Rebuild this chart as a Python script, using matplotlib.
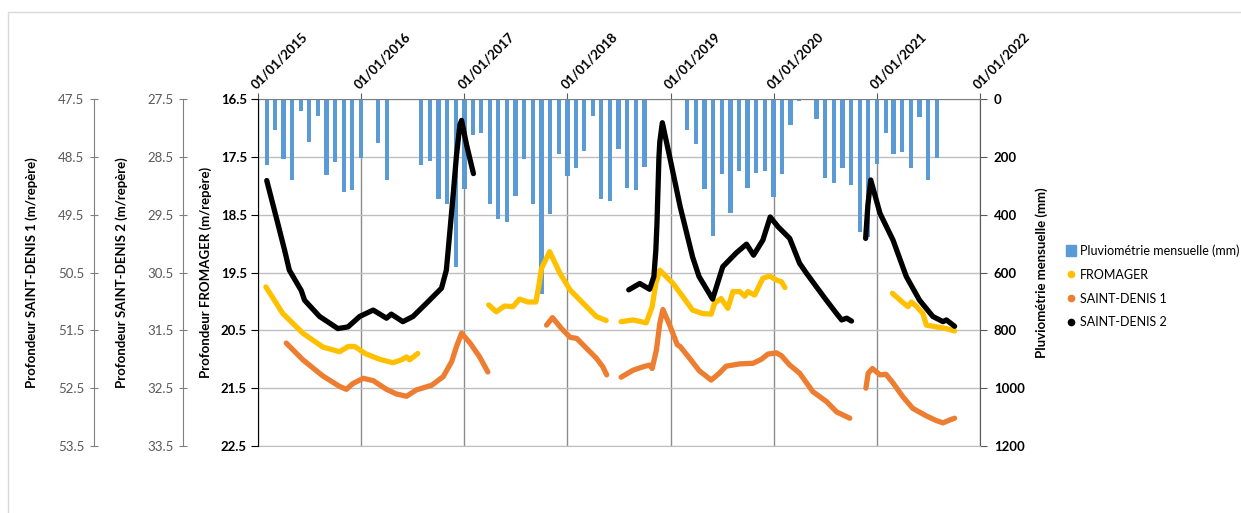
import numpy as np
import pandas as pd
import matplotlib
matplotlib.use("Agg")
import matplotlib.pyplot as plt
import matplotlib.dates as mdates
from matplotlib.lines import Line2D
from matplotlib.patches import Patch, Rectangle

plt.rcParams['font.family'] = ['Lato', 'DejaVu Sans']

# pluviométrie mensuelle (mm), une barre par mois à partir de janvier 2015
rain_start = "2015-01-01"
rain_mm = [0, 229, 108, 206, 281, 43, 149, 59, 262, 218, 322, 314,
           204, 0, 151, 281, 0, 0, 0, 227, 214, 345, 362, 581,
           310, 123, 116, 362, 414, 425, 335, 206, 362, 673, 397, 189,
           267, 239, 179, 59, 345, 354, 172, 307, 316, 235, 0, 0,
           0, 0, 108, 154, 312, 475, 258, 393, 249, 307, 255, 249,
           339, 260, 91, 8, 0, 68, 273, 289, 239, 296, 460, 476,
           224, 119, 190, 183, 240, 61, 280, 205]

# profondeurs (m/repère), par tronçon de mesures continues
fromager_dates = [
    ["2015-01-29", "2015-03-30", "2015-06-09", "2015-08-19", "2015-10-17", "2015-11-16", "2015-12-10",
     "2016-01-15", "2016-03-06", "2016-04-23", "2016-05-23", "2016-06-10", "2016-06-21", "2016-07-20"],
    ["2017-03-28", "2017-04-24", "2017-05-23", "2017-06-22", "2017-07-15", "2017-08-14", "2017-09-11",
     "2017-09-23", "2017-10-01", "2017-10-13", "2017-10-30", "2017-12-05", "2018-01-10", "2018-02-25",
     "2018-04-13", "2018-05-18"],
    ["2018-07-10", "2018-08-21", "2018-10-07", "2018-10-28", "2018-11-10", "2018-11-24", "2019-01-10",
     "2019-02-14", "2019-03-20", "2019-04-25", "2019-05-25", "2019-06-06", "2019-06-29", "2019-07-23",
     "2019-08-10", "2019-09-03", "2019-09-21", "2019-10-02", "2019-10-26", "2019-11-24", "2019-12-18",
     "2020-01-11", "2020-01-29", "2020-02-10"],
    ["2021-02-25", "2021-04-03", "2021-04-21", "2021-05-03", "2021-05-20", "2021-06-13", "2021-06-25",
     "2021-08-11", "2021-09-04", "2021-10-03"],
]
fromager_m = [
    [19.75, 20.21, 20.55, 20.79, 20.87, 20.78, 20.78, 20.90, 21.00, 21.06, 21.01, 20.96, 21.01, 20.90],
    [20.06, 20.18, 20.08, 20.09, 19.96, 20.01, 20.01, 19.69, 19.43, 19.31, 19.14, 19.51, 19.80, 20.03,
     20.26, 20.33],
    [20.35, 20.32, 20.37, 20.09, 19.69, 19.46, 19.69, 19.92, 20.15, 20.21, 20.22, 20.03, 19.95, 20.12,
     19.83, 19.83, 19.91, 19.83, 19.89, 19.60, 19.56, 19.63, 19.66, 19.76],
    [19.86, 20.02, 20.09, 20.01, 20.08, 20.21, 20.41, 20.45, 20.47, 20.51],
]

sd1_dates = [
    ["2015-04-11", "2015-06-09", "2015-08-19", "2015-10-17", "2015-11-10", "2015-12-03", "2016-01-09",
     "2016-02-13", "2016-03-31", "2016-05-05", "2016-06-10", "2016-07-15", "2016-09-07", "2016-10-18",
     "2016-11-17", "2016-12-04", "2016-12-22", "2017-01-21", "2017-02-24", "2017-03-25"],
    ["2017-10-19", "2017-11-09", "2017-12-11", "2018-01-10", "2018-02-03", "2018-02-25", "2018-04-13",
     "2018-05-06", "2018-05-20"],
    ["2018-07-10", "2018-08-21", "2018-09-26", "2018-10-19", "2018-10-28", "2018-11-12", "2018-11-24",
     "2018-12-05", "2018-12-29", "2019-01-25", "2019-02-04", "2019-03-09", "2019-04-13", "2019-05-25",
     "2019-06-23", "2019-07-17", "2019-09-03", "2019-10-20", "2019-11-19", "2019-12-12", "2020-01-11",
     "2020-01-29", "2020-02-27", "2020-04-02", "2020-05-19", "2020-07-06", "2020-08-11", "2020-09-27"],
    ["2020-11-23", "2020-12-01", "2020-12-16", "2021-01-12", "2021-02-02", "2021-02-27", "2021-04-03",
     "2021-05-08", "2021-06-25", "2021-07-30", "2021-08-23", "2021-09-16", "2021-10-03"],
]
sd1_m = [
    [51.72, 52.01, 52.29, 52.47, 52.52, 52.42, 52.33, 52.37, 52.52, 52.60, 52.64, 52.53, 52.45, 52.30,
     52.04, 51.78, 51.55, 51.72, 51.96, 52.22],
    [51.41, 51.28, 51.47, 51.62, 51.64, 51.75, 51.98, 52.13, 52.27],
    [52.31, 52.19, 52.13, 52.10, 52.16, 51.84, 51.38, 51.14, 51.41, 51.75, 51.78, 51.98, 52.20, 52.36,
     52.24, 52.12, 52.08, 52.07, 52.00, 51.91, 51.89, 51.94, 52.10, 52.24, 52.56, 52.73, 52.91, 53.02],
    [52.50, 52.24, 52.16, 52.27, 52.26, 52.41, 52.65, 52.85, 52.98, 53.06, 53.10, 53.05, 53.02],
]

sd2_dates = [
    ["2015-02-01", "2015-03-11", "2015-04-05", "2015-04-22", "2015-06-03", "2015-06-15", "2015-08-07",
     "2015-10-11", "2015-11-16", "2015-12-27", "2016-02-13", "2016-03-31", "2016-04-17", "2016-05-28",
     "2016-07-03", "2016-08-20", "2016-10-12", "2016-10-29", "2016-11-05", "2016-11-23", "2016-12-04",
     "2016-12-16", "2016-12-22", "2017-01-09", "2017-02-02"],
    ["2018-08-06", "2018-09-14", "2018-10-19", "2018-11-03", "2018-11-10", "2018-11-14", "2018-11-21",
     "2018-11-24", "2018-12-03", "2018-12-29", "2019-02-04", "2019-03-20", "2019-04-12", "2019-05-30",
     "2019-07-05", "2019-07-29", "2019-08-22", "2019-09-27", "2019-10-22", "2019-11-24", "2019-12-20",
     "2020-01-17", "2020-02-27", "2020-04-02", "2020-04-26", "2020-06-01", "2020-07-06", "2020-08-11",
     "2020-08-29", "2020-09-16", "2020-10-03"],
    ["2020-11-22", "2020-11-30", "2020-12-10", "2021-01-12", "2021-02-27", "2021-04-15", "2021-06-01",
     "2021-07-18", "2021-08-23", "2021-09-04", "2021-10-03"],
]
sd2_m = [
    [28.91, 29.63, 30.11, 30.46, 30.81, 30.98, 31.26, 31.47, 31.44, 31.26, 31.15, 31.29, 31.22, 31.35,
     31.26, 31.03, 30.77, 30.46, 30.09, 29.11, 28.47, 27.95, 27.87, 28.30, 28.79],
    [30.80, 30.69, 30.79, 30.57, 30.11, 29.65, 28.50, 28.24, 27.91, 28.50, 29.36, 30.23, 30.57, 30.96,
     30.40, 30.28, 30.16, 30.01, 30.20, 29.94, 29.54, 29.71, 29.91, 30.34, 30.51, 30.75, 30.98, 31.21,
     31.32, 31.29, 31.34],
    [29.91, 29.33, 28.90, 29.48, 29.94, 30.57, 30.98, 31.26, 31.35, 31.32, 31.43],
]

c_rain = "#5B9BD5"
c_fro = "#FFC000"
c_sd1 = "#ED7D31"
c_sd2 = "#000000"

W, H = 1241, 513
fig = plt.figure(figsize=(W / 100, H / 100), dpi=100)
x0, x1, y0, y1 = 258, 980, 99, 446
ax = fig.add_axes([x0 / W, 1 - y1 / H, (x1 - x0) / W, (y1 - y0) / H])

# barres de pluie (axe de droite, inversé)
rain_dates = pd.date_range(rain_start, periods=len(rain_mm), freq="MS")
ax.bar(rain_dates, rain_mm, width=15, color=c_rain, zorder=2)
ax.set_ylim(1200, 0)
ax.set_yticks(range(0, 1201, 200))

ax.set_xlim(pd.Timestamp("2015-01-01"), pd.Timestamp("2022-01-01"))
ax.xaxis.tick_top()
ax.xaxis.set_major_locator(mdates.YearLocator())
ax.xaxis.set_major_formatter(mdates.DateFormatter("%d/%m/%Y"))
ax.tick_params(axis="x", direction="out", length=4, color="#595959", labelsize=9.5, pad=2)
plt.setp(ax.get_xticklabels(), rotation=45, ha="left", va="bottom",
         rotation_mode="anchor", fontweight="bold")

ax.set_axisbelow(True)
ax.yaxis.grid(True, color="#BFBFBF", lw=1)
ax.xaxis.grid(True, color="#8C8C8C", lw=1)


def depth_axis(offset, lims, ticks, label, label_x, main=False):
    a = ax.twinx()
    a.set_ylim(*lims)
    a.set_yticks(ticks)
    a.yaxis.tick_left()
    a.yaxis.set_label_position("left")
    for s in ["top", "right", "bottom"]:
        a.spines[s].set_visible(False)
    a.spines["left"].set_visible(True)
    a.spines["left"].set_position(("axes", offset))
    if main:
        a.spines["left"].set_color("black")
        a.tick_params(axis="y", direction="out", length=5, labelsize=9.5, pad=3)
        for t in a.get_yticklabels():
            t.set_fontweight("bold")
    else:
        a.spines["left"].set_color("#808080")
        a.tick_params(axis="y", direction="inout", length=6, color="#808080",
                      labelcolor="#595959", labelsize=9.5, pad=4)
    a.yaxis.set_major_formatter(matplotlib.ticker.FormatStrFormatter("%.1f"))
    a.set_ylabel(label, fontsize=9.5, fontweight="bold")
    a.yaxis.set_label_coords(label_x, 0.5)
    return a


ax_fro = depth_axis(0, (22.5, 16.5), np.arange(16.5, 22.6, 1.0),
                    "Profondeur FROMAGER (m/repère)", -0.064, main=True)
ax_sd2 = depth_axis(-75 / 722, (33.5, 27.5), np.arange(27.5, 33.6, 1.0),
                    "Profondeur SAINT-DENIS 2 (m/repère)", -0.18)
ax_sd1 = depth_axis(-164 / 722, (53.5, 47.5), np.arange(47.5, 53.6, 1.0),
                    "Profondeur SAINT-DENIS 1 (m/repère)", -0.305)

# twinx() remet les graduations à gauche : on les renvoie à droite
ax.yaxis.tick_right()
ax.yaxis.set_label_position("right")
ax.set_ylabel("Pluviométrie mensuelle (mm)", fontsize=9.5, fontweight="bold")
ax.yaxis.set_label_coords(1.076, 0.5)
ax.tick_params(axis="y", direction="out", length=5, color="#595959", labelsize=9.5, pad=5)
for t in ax.get_yticklabels():
    t.set_fontweight("bold")
ax.spines["top"].set_color("#7F7F7F")
ax.spines["right"].set_color("#595959")
ax.spines["bottom"].set_color("#BFBFBF")
ax.spines["left"].set_visible(False)

for a, dates, vals, col in [(ax_sd1, sd1_dates, sd1_m, c_sd1),
                            (ax_fro, fromager_dates, fromager_m, c_fro),
                            (ax_sd2, sd2_dates, sd2_m, c_sd2)]:
    for d, v in zip(dates, vals):
        a.plot(pd.to_datetime(d), v, color=col, lw=3.8,
               solid_capstyle="round", solid_joinstyle="round")

handles = [Patch(color=c_rain),
           Line2D([], [], ls="", marker="o", ms=4.5, color=c_fro),
           Line2D([], [], ls="", marker="o", ms=4.5, color=c_sd1),
           Line2D([], [], ls="", marker="o", ms=4.5, color=c_sd2)]
labels = ["Pluviométrie mensuelle (mm)", "FROMAGER", "SAINT-DENIS 1", "SAINT-DENIS 2"]
fig.legend(handles, labels, loc="upper left", bbox_to_anchor=(1060 / W, 1 - 238 / H),
           frameon=False, fontsize=9, handlelength=0.8, handleheight=0.9,
           handletextpad=0.3, labelspacing=0.95, borderpad=0)

# cadre du graphique
fig.add_artist(Rectangle((8 / W, -0.02), 1.05, 1 - 12 / H + 0.02, transform=fig.transFigure,
                         fill=False, edgecolor="#D9D9D9", lw=1))

fig.savefig("out.png", dpi=100)
